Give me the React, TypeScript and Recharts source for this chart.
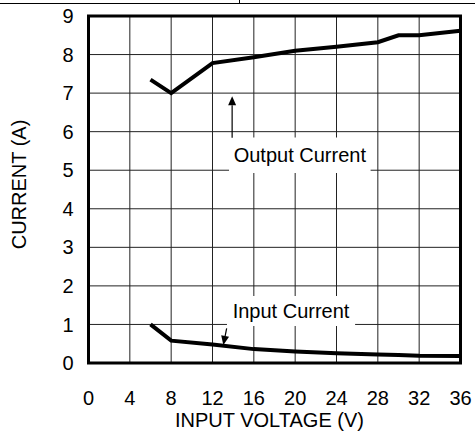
import React from 'react';
import { LineChart, Line, XAxis, YAxis, CartesianGrid, ReferenceArea, ReferenceLine } from 'recharts';

// Values
const voltage = [6, 8, 12, 16, 20, 24, 28, 30, 32, 36];
const outputCurrent = [7.35, 7.0, 7.78, 7.93, 8.1, 8.2, 8.32, 8.5, 8.5, 8.62];
const inputCurrent = [1.0, 0.58, 0.48, 0.36, 0.3, 0.25, 0.22, 0.21, 0.19, 0.18];

const xTicks = [0, 4, 8, 12, 16, 20, 24, 28, 32, 36];
const yTicks = [0, 1, 2, 3, 4, 5, 6, 7, 8, 9];

const data = voltage.map((v, i) => ({ v, out: outputCurrent[i], inp: inputCurrent[i] }));

const FONT = 'Arial, "Liberation Sans", Helvetica, sans-serif';
const FS = 20;

// line with a filled arrowhead at (x2, y2)
const Arrow = (p: any) => {
  const { x1, y1, x2, y2 } = p;
  const dx = x2 - x1;
  const dy = y2 - y1;
  const len = Math.sqrt(dx * dx + dy * dy) || 1;
  const ux = dx / len;
  const uy = dy / len;
  const head = 9;
  const half = 4;
  const bx = x2 - ux * head;
  const by = y2 - uy * head;
  const pts = `${x2},${y2} ${bx - uy * half},${by + ux * half} ${bx + uy * half},${by - ux * half}`;
  return (
    <g>
      <line x1={x1} y1={y1} x2={bx} y2={by} stroke="#000" strokeWidth={1.2} />
      <polygon points={pts} fill="#000" />
    </g>
  );
};

export default function App() {
  return (
    <div style={{ position: 'absolute', left: 0, top: 0, width: 475, height: 432, background: '#fff', fontFamily: FONT }}>
      {/* header rule from the datasheet page */}
      <div style={{ position: 'absolute', left: 0, top: 3, width: 475, height: 1, background: '#000' }} />
      <div style={{ position: 'absolute', left: 239, top: 0, width: 1, height: 4, background: '#000' }} />
      <LineChart
        width={475}
        height={432}
        data={data}
        margin={{ top: 16, right: 14.5, left: 0, bottom: 0 }}
        style={{ fontFamily: FONT }}
      >
        <CartesianGrid stroke="#222" strokeWidth={1} />
        <XAxis
          dataKey="v"
          type="number"
          domain={[0, 36]}
          ticks={xTicks}
          height={69}
          axisLine={false}
          tickLine={false}
          tickSize={0}
          tickMargin={28}
          tick={{ fill: '#000', fontSize: FS }}
          interval={0}
          label={{ value: 'INPUT VOLTAGE (V)', position: 'insideBottom', offset: 5, dx: -5, fill: '#000', fontSize: FS }}
        />
        <YAxis
          type="number"
          domain={[0, 9]}
          ticks={yTicks}
          width={88.5}
          axisLine={false}
          tickLine={false}
          tickSize={0}
          tickMargin={15}
          tick={{ fill: '#000', fontSize: FS }}
          interval={0}
          label={{ value: 'CURRENT (A)', angle: -90, position: 'center', dx: -25, dy: -5, fill: '#000', fontSize: FS }}
        />
        <ReferenceArea
          x1={13.6}
          x2={27.3}
          y1={4.93}
          y2={5.85}
          fill="#fff"
          fillOpacity={1}
          stroke="none"
          label={{ value: 'Output Current', position: 'center', fill: '#000', fontSize: FS }}
        />
        <ReferenceArea
          x1={13.4}
          x2={25.8}
          y1={0.96}
          y2={1.74}
          fill="#fff"
          fillOpacity={1}
          stroke="none"
          label={{ value: 'Input Current', position: 'center', fill: '#000', fontSize: FS }}
        />
        <ReferenceLine segment={[{ x: 13.9, y: 5.84 }, { x: 13.9, y: 6.92 }]} shape={Arrow} />
        <ReferenceLine segment={[{ x: 13.37, y: 0.9 }, { x: 13.05, y: 0.47 }]} shape={Arrow} />
        <Line type="linear" dataKey="out" stroke="#000" strokeWidth={4} dot={false} isAnimationActive={false} />
        <Line type="linear" dataKey="inp" stroke="#000" strokeWidth={4} dot={false} isAnimationActive={false} />
        <ReferenceArea x1={0} x2={36} y1={0} y2={9} fill="none" stroke="#000" strokeWidth={3} />
      </LineChart>
    </div>
  );
}
